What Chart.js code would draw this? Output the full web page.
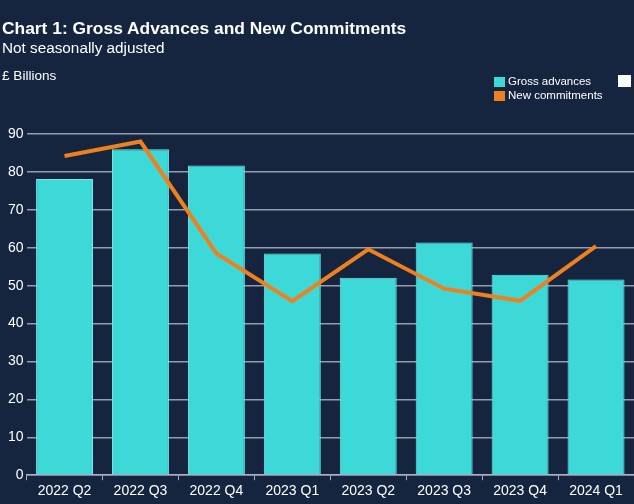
<!DOCTYPE html>
<html>
<head>
<meta charset="utf-8">
<script src="https://cdn.jsdelivr.net/npm/chart.js@4"></script>
<style>
  html, body { margin: 0; padding: 0; background: #15253f; }
  #wrap { position: relative; width: 634px; height: 504px; overflow: hidden; background: #15253f; font-family: "Liberation Sans", Arial, sans-serif; color: #ffffff; }
  #wrap canvas { position: absolute; left: 0; top: 0; }
  .txt { position: absolute; left: 2px; white-space: nowrap; }
  #title { top: 18px; font-size: 17.4px; font-weight: bold; }
  #subtitle { top: 39px; font-size: 15.3px; }
  #unit { top: 68px; font-size: 13.6px; }
  .leg { position: absolute; font-size: 11.5px; white-space: nowrap; }
  .sw { position: absolute; width: 11px; height: 10px; }
</style>
</head>
<body>
<div id="wrap">
  <canvas id="chart" width="634" height="504"></canvas>
  <div class="txt" id="title">Chart 1: Gross Advances and New Commitments</div>
  <div class="txt" id="subtitle">Not seasonally adjusted</div>
  <div class="txt" id="unit">£ Billions</div>
  <div class="sw" style="left:494px;top:77px;background:#3dd8d8"></div>
  <div class="leg" style="left:508px;top:75px">Gross advances</div>
  <div class="sw" style="left:494px;top:91px;background:#f0801e"></div>
  <div class="leg" style="left:508px;top:89px">New commitments</div>
  <div class="sw" style="left:618px;top:75px;width:13px;height:12px;background:#ffffff"></div>
</div>
<script>
// Données (milliards de £)
const quarters = ["2022 Q2", "2022 Q3", "2022 Q4", "2023 Q1", "2023 Q2", "2023 Q3", "2023 Q4", "2024 Q1"];
const grossAdvances = [78.1, 86.0, 81.7, 58.5, 52.1, 61.4, 52.9, 51.6];
const newCommitments = [84.2, 88.0, 58.5, 45.9, 59.6, 49.2, 46.0, 60.4];
const yTicks = [0, 10, 20, 30, 40, 50, 60, 70, 80, 90];

const ctx = document.getElementById("chart").getContext("2d");
new Chart(ctx, {
  type: "bar",
  data: {
    labels: quarters,
    datasets: [
      {
        type: "line",
        label: "New commitments",
        data: newCommitments,
        borderColor: "#f0801e",
        borderWidth: 4,
        pointRadius: 0,
        tension: 0,
        order: 0
      },
      {
        label: "Gross advances",
        data: grossAdvances,
        backgroundColor: "#3dd8d8",
        borderColor: "#79e6e6",
        borderWidth: 1,
        barPercentage: 0.75,
        categoryPercentage: 1,
        order: 1
      }
    ]
  },
  options: {
    responsive: false,
    animation: false,
    layout: { padding: { top: 134, bottom: 1, left: 5, right: 0 } },
    plugins: {
      legend: { display: false },
      tooltip: { enabled: false }
    },
    scales: {
      x: {
        grid: { display: true, drawOnChartArea: false, tickLength: 5, color: "#a9afc0", offset: true },
        border: { display: true, color: "#a9afc0", width: 1.5 },
        ticks: { color: "#ffffff", padding: 3, font: { family: "Liberation Sans", size: 14 } }
      },
      y: {
        min: 0,
        max: 90,
        afterBuildTicks: axis => { axis.ticks = yTicks.map(v => ({ value: v })); },
        grid: { color: "#959cb0", lineWidth: 1.5, drawTicks: false },
        border: { display: false },
        ticks: { color: "#ffffff", padding: 3, font: { family: "Liberation Sans", size: 14 } }
      }
    }
  }
});
</script>
</body>
</html>
